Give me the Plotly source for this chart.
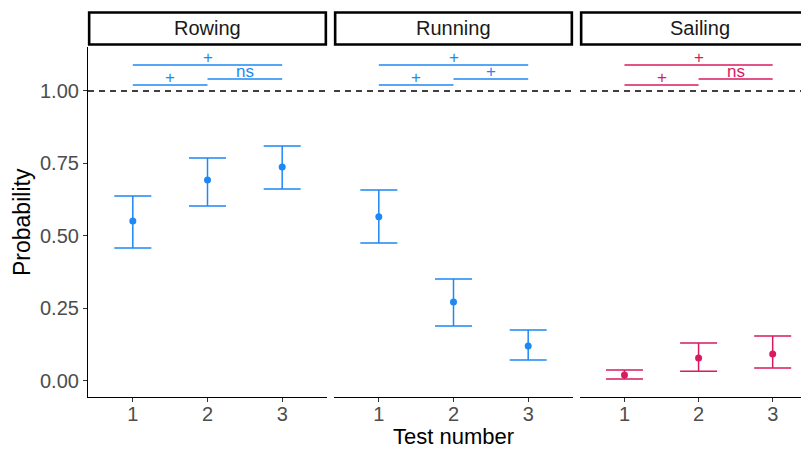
import plotly.graph_objects as go

sports = ["Rowing", "Running", "Sailing"]
tests = [1, 2, 3]
prob = {
    "Rowing": [0.552, 0.693, 0.738],
    "Running": [0.566, 0.272, 0.121],
    "Sailing": [0.021, 0.079, 0.093],
}
lower = {
    "Rowing": [0.459, 0.603, 0.662],
    "Running": [0.476, 0.190, 0.072],
    "Sailing": [0.007, 0.034, 0.045],
}
upper = {
    "Rowing": [0.638, 0.769, 0.810],
    "Running": [0.659, 0.352, 0.176],
    "Sailing": [0.038, 0.131, 0.155],
}
colors = {"Rowing": "#1E88F5", "Running": "#1E88F5", "Sailing": "#D81B60"}

# significance brackets: (x start, x end, y, label)
bracket_pos = [(1, 2, 1.021), (2, 3, 1.041), (1, 3, 1.090)]
bracket_labels = {
    "Rowing": ["+", "ns", "+"],
    "Running": ["+", "+", "+"],
    "Sailing": ["+", "ns", "+"],
}

# page has an 8px body margin, so the figure is sized to end at the window edge
W, H = 801, 441
L, R, T, B = 80, 0, 39, 52
pw = W - L - R
doms = [(0, 239 / pw), (246 / pw, 485 / pw), (492 / pw, 1.0)]
xranges = [[0.4, 3.6], [0.4, 3.6], [0.4, 3.49]]
yrange = [-0.0552, 1.1517]

fig = go.Figure()
font = "Liberation Sans, Arial, sans-serif"
shapes = []
annotations = []

for i, s in enumerate(sports):
    xa = "x" if i == 0 else f"x{i+1}"
    ya = "y" if i == 0 else f"y{i+1}"
    c = colors[s]
    fig.add_trace(go.Scatter(
        x=tests, y=prob[s], mode="markers",
        marker=dict(color=c, size=7),
        error_y=dict(type="data", symmetric=False,
                     array=[u - p for u, p in zip(upper[s], prob[s])],
                     arrayminus=[p - l for p, l in zip(prob[s], lower[s])],
                     color=c, thickness=1.5, width=18.5),
        xaxis=xa, yaxis=ya, showlegend=False, cliponaxis=False))
    # dashed reference line
    shapes.append(dict(type="line", xref=f"{xa} domain", yref=ya, x0=0, x1=1, y0=1, y1=1,
                       line=dict(color="black", width=1.3, dash="6px,5px")))
    # brackets
    for (x0, x1, yb), lab in zip(bracket_pos, bracket_labels[s]):
        shapes.append(dict(type="line", xref=xa, yref=ya, x0=x0, x1=x1, y0=yb, y1=yb,
                           line=dict(color=c, width=1.5)))
        annotations.append(dict(x=(x0 + x1) / 2, y=yb, xref=xa, yref=ya, text=lab,
                                showarrow=False, xanchor="center", yanchor="bottom", yshift=-4,
                                font=dict(family=font, size=17, color=c)))
    # strip
    d0, d1 = doms[i]
    sx1 = d1 if i < 2 else 1.03
    shapes.append(dict(type="rect", xref="paper", yref="paper", x0=d0 + 0.0016, x1=sx1 - 0.0016,
                       y0=1.0071, y1=1.0986, line=dict(color="black", width=2.6),
                       fillcolor="white", layer="above"))
    annotations.append(dict(x=d0 + 119.5 / pw, y=1.053, xref="paper", yref="paper", text=s,
                            showarrow=False, xanchor="center", yanchor="middle",
                            font=dict(family=font, size=20, color="#1A1A1A")))
    axkw = dict(domain=[d0, d1], range=xranges[i], tickvals=tests, ticktext=[str(t) for t in tests],
                showgrid=False, zeroline=False, showline=True, linecolor="black", linewidth=1.2,
                ticks="outside", ticklen=4, tickcolor="#333333", ticklabelstandoff=-5,
                tickfont=dict(family=font, size=20, color="#4D4D4D"))
    yakw = dict(domain=[0, 1], range=yrange, showgrid=False, zeroline=False,
                tickvals=[0, 0.25, 0.5, 0.75, 1.0],
                ticktext=["0.00", "0.25", "0.50", "0.75", "1.00"])
    if i == 0:
        yakw.update(showline=True, linecolor="black", linewidth=1.2, ticks="outside", ticklen=4,
                    tickcolor="#333333", tickfont=dict(family=font, size=20, color="#4D4D4D"))
    else:
        yakw.update(showline=False, showticklabels=False, ticks="", matches="y")
    fig.update_layout(**{("xaxis" if i == 0 else f"xaxis{i+1}"): axkw,
                         ("yaxis" if i == 0 else f"yaxis{i+1}"): yakw})

annotations.append(dict(x=(445 - L) / pw, y=-0.113, xref="paper", yref="paper", text="Test number",
                        showarrow=False, xanchor="center", yanchor="middle",
                        font=dict(family=font, size=22, color="black")))
annotations.append(dict(x=(14 - L) / pw, y=0.5, xref="paper", yref="paper", text="Probability",
                        textangle=-90, showarrow=False, xanchor="center", yanchor="middle",
                        font=dict(family=font, size=23, color="black")))

fig.update_layout(width=W, height=H, margin=dict(l=L, r=R, t=T, b=B),
                  plot_bgcolor="white", paper_bgcolor="white",
                  shapes=shapes, annotations=annotations)
fig.write_html("out.html")
